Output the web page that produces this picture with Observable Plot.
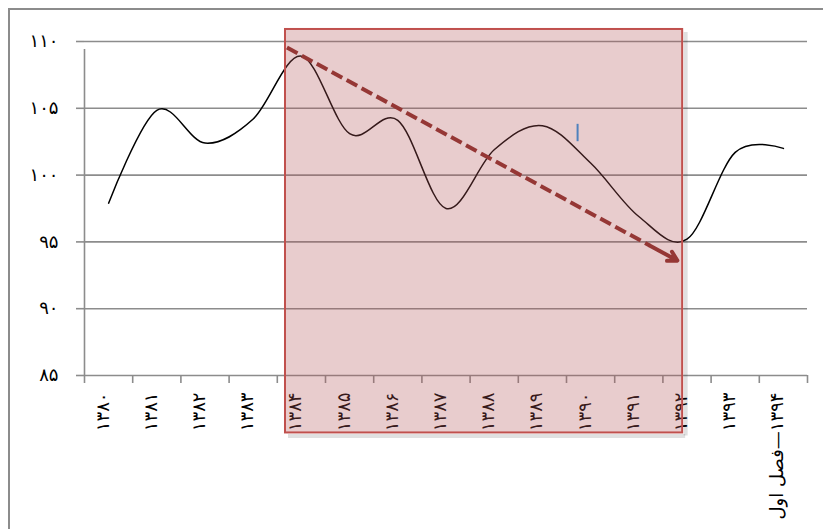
<!DOCTYPE html>
<html><head><meta charset="utf-8">
<script src="https://cdn.jsdelivr.net/npm/d3@7"></script>
<script src="https://cdn.jsdelivr.net/npm/@observablehq/plot@0.6"></script>
<style>
body{margin:0;background:#fff;}
#wrap{position:relative;width:823px;height:529px;overflow:hidden;background:#fff;}
#frame{position:absolute;left:8px;top:8px;width:900px;height:900px;border-left:2px solid #8c8c8c;border-top:2px solid #8c8c8c;pointer-events:none;z-index:2;}
</style></head><body><div id="wrap"><div id="frame"></div></div>
<script>
// ---- data ----
const years = [1380,1381,1382,1383,1384,1385,1386,1387,1388,1389,1390,1391,1392,1393,1394];
const yearLabels = ["۱۳۸۰","۱۳۸۱","۱۳۸۲","۱۳۸۳","۱۳۸۴","۱۳۸۵","۱۳۸۶","۱۳۸۷","۱۳۸۸","۱۳۸۹","۱۳۹۰","۱۳۹۱","۱۳۹۲","۱۳۹۳","\u202B۱۳۹۴—فصل اول\u202C"];
const values = [97.9,104.85,102.4,104.2,108.9,103.1,104.1,97.5,101.9,103.7,100.9,96.9,95.2,101.7,102.0];
const yTicks = [85,90,95,100,105,110];
const yTickLabels = ["۸۵","۹۰","۹۵","۱۰۰","۱۰۵","۱۱۰"];
// highlighted period (year units / index value units)
const highlightYears = [1383.67, 1391.91];
const highlightValues = [80.7, 110.9];
// downward trend arrow
const trendYears = [1383.7, 1391.8];
const trendValues = [109.55, 93.6];
// small blue cursor mark
const cursorYear = [1389.73];
const cursorValues = [102.5, 103.8];

const data = years.map((y, i) => ({year: y, value: values[i], label: yearLabels[i]}));
const halfYears = [years[0] - 0.5, ...years.map(y => y + 0.5)];
const highlight = [{x1: highlightYears[0], x2: highlightYears[1], y1: highlightValues[0], y2: highlightValues[1]}];
const t = 0.93;
const trendHead = [{x1: trendYears[0] + (trendYears[1]-trendYears[0])*t, y1: trendValues[0] + (trendValues[1]-trendValues[0])*t, x2: trendYears[1], y2: trendValues[1]}];
const trendShaft = [{x1: trendYears[0], y1: trendValues[0], x2: trendHead[0].x1, y2: trendHead[0].y1}];
const cursor = [{year: cursorYear[0], low: cursorValues[0], high: cursorValues[1]}];

const gray = "#8c8c8c";
const shadow = "rgba(0,0,0,0.12)";
const svg = Plot.plot({
  width: 823, height: 529,
  marginLeft: 84, marginRight: 16, marginTop: 41, marginBottom: 154,
  style: {fontFamily: "DejaVu Sans", fontSize: "18px", background: "transparent", color: "black"},
  x: {domain: [halfYears[0], halfYears[halfYears.length-1]], axis: null},
  y: {domain: [yTicks[0], yTicks[yTicks.length-1]], axis: null},
  marks: [
    Plot.ruleY(yTicks, {stroke: gray, strokeWidth: 1.6}),
    Plot.axisY(yTicks, {tickSize: 8, tickPadding: 18, tickFormat: d => yTickLabels[yTicks.indexOf(d)], stroke: gray, strokeWidth: 1.6, fill: "black", fontSize: 18, label: null}),
    Plot.ruleX([halfYears[0]], {y1: yTicks[0], y2: yTicks[yTicks.length-1], insetBottom: -8, stroke: gray, strokeWidth: 1.6}),
    Plot.axisX(halfYears, {tickSize: 8, tickFormat: () => "", stroke: gray, strokeWidth: 1.6, label: null}),
    Plot.line(data, {x: "year", y: "value", curve: "cardinal", stroke: "black", strokeWidth: 1.5}),
    Plot.text(data, {x: "year", text: "label", frameAnchor: "bottom", rotate: -90, textAnchor: "end", dy: 17, fontSize: 18, fill: "black"}),
    // soft shadow of the highlight box (bottom and right edges)
    Plot.ruleY(highlight, {y: "y1", x1: "x1", x2: "x2", dy: 3, dx: 3, stroke: shadow, strokeWidth: 4}),
    Plot.ruleX(highlight, {x: "x2", y1: "y1", y2: "y2", dx: 3, dy: 3, stroke: shadow, strokeWidth: 4}),
    Plot.rect(highlight, {x1: "x1", x2: "x2", y1: "y1", y2: "y2", fill: "#b25558", fillOpacity: 0.3, stroke: "#c0504d", strokeWidth: 2}),
    Plot.link(trendShaft, {x1: "x1", y1: "y1", x2: "x2", y2: "y2", stroke: "#953735", strokeWidth: 4, strokeDasharray: "12,5"}),
    Plot.arrow(trendHead, {x1: "x1", y1: "y1", x2: "x2", y2: "y2", stroke: "#953735", strokeWidth: 4, headLength: 20, headAngle: 60}),
    Plot.ruleX(cursor, {x: "year", y1: "low", y2: "high", stroke: "#4f81bd", strokeWidth: 2})
  ]
});
const labels = d3.select(svg).selectAll('g[aria-label="text"] text');
const n = labels.size();
labels.style("letter-spacing", (_, i) => i === n - 1 ? "0px" : "1px");
d3.select(svg).selectAll('g[aria-label="y-axis tick label"] text').style("letter-spacing", "1px");
document.getElementById("wrap").prepend(svg);
</script></body></html>
